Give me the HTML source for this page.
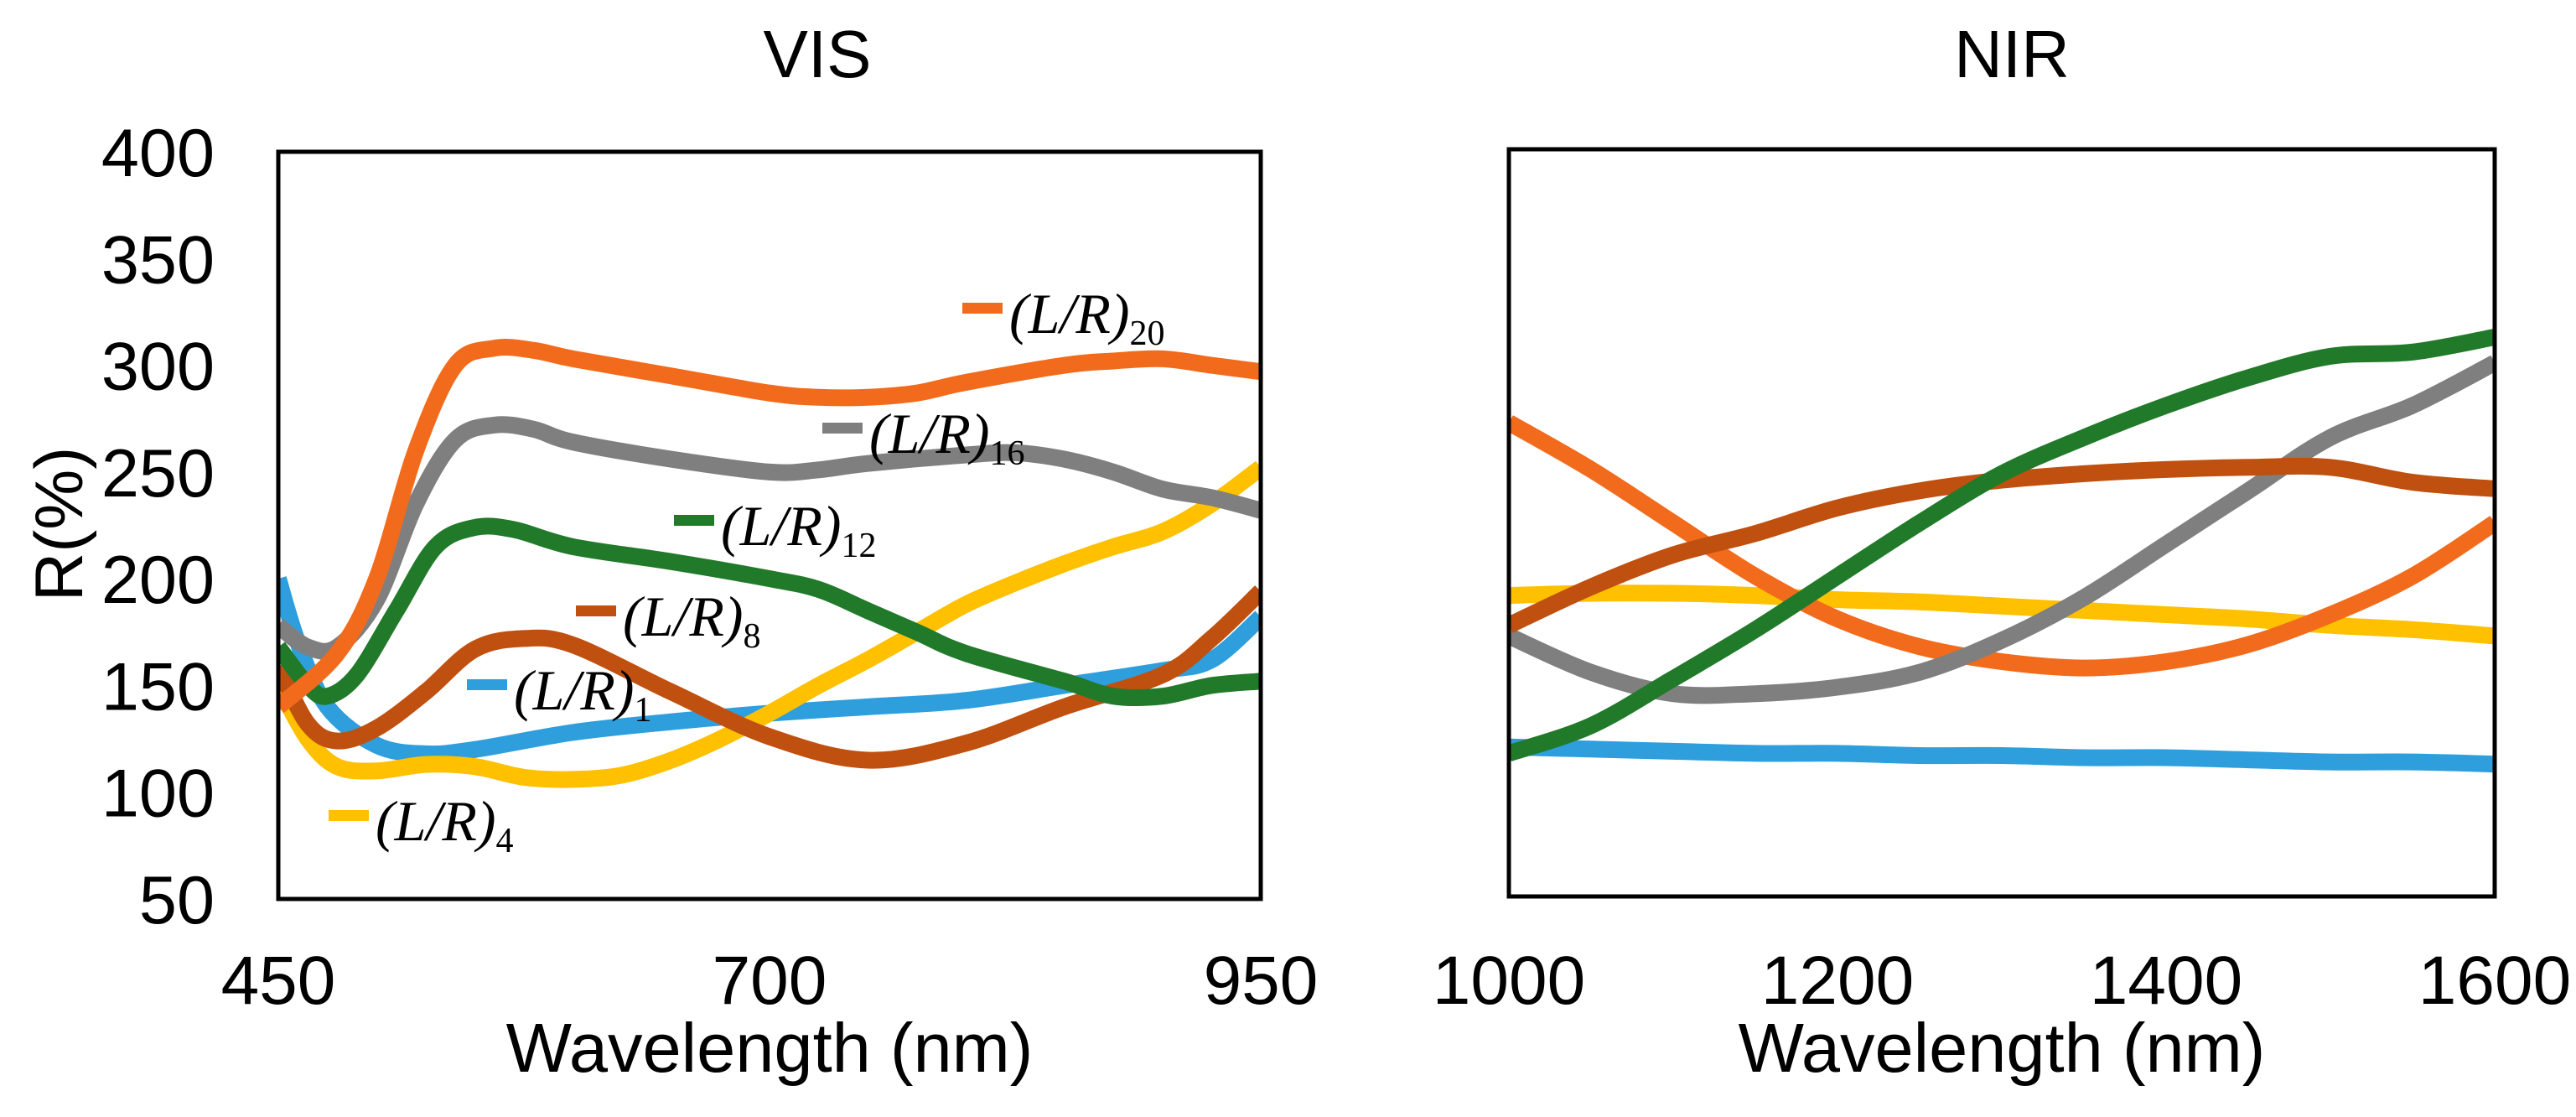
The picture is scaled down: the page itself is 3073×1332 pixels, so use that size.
<!DOCTYPE html>
<html><head><meta charset="utf-8"><style>
html,body{margin:0;padding:0;background:#fff;}
svg{display:block;}
text{font-family:"Liberation Sans",sans-serif;fill:#000;}
.lg{font-family:"Liberation Serif",serif;font-style:italic;font-size:68px;}
.sub{font-family:"Liberation Serif",serif;font-style:normal;font-size:42px;}
</style></head><body>
<svg id="chart" width="3073" height="1332" viewBox="0 0 3073 1332" xmlns="http://www.w3.org/2000/svg">
<g id="layer"></g>
</svg>
<script>
// ---- data ----
const yTicks = [50,100,150,200,250,300,350,400];
const visTicks = [450,700,950];
const nirTicks = [1000,1200,1400,1600];
const seriesNames = ["(L/R)1","(L/R)4","(L/R)8","(L/R)12","(L/R)16","(L/R)20"];
const seriesColors = ["#2E9FDC","#FFC000","#C0500F","#217A2A","#7F7F7F","#F26B1D"];

const visX1 = [450,460,475,500,525,550,600,650,700,750,800,850,900,925,950];
const visY1 = [200,170,140,122,118,120,128,133,137,140,143,150,157,162,182];
const visX4 = [450,465,480,500,525,550,575,600,625,650,675,700,725,750,775,800,825,850,875,900,925,950];
const visY4 = [150,125,112,110,113,112,107,106,108,115,125,137,150,162,175,188,198,207,215,222,235,252];
const visX8 = [450,465,480,500,525,550,575,600,650,700,750,800,850,900,925,950];
const visY8 = [159,132,124,130,147,167,172,169,147,126,115,123,140,155,172,194];
const visX12 = [450,465,475,490,510,530,550,570,600,650,700,725,750,775,800,850,875,900,925,950];
const visY12 = [168,150,145,155,185,215,224,223,215,208,200,195,185,175,165,152,145,145,150,152];
const visX16 = [450,465,480,500,520,540,560,580,600,650,700,725,750,800,825,850,875,900,925,950];
const visY16 = [178,168,168,190,235,265,272,270,264,256,250,251,254,258,259,256,250,242,238,232];
const visX20 = [450,480,500,520,540,560,580,600,650,700,725,750,775,800,850,875,900,925,950];
const visY20 = [140,165,200,260,300,308,307,303,295,287,285,285,287,292,300,302,303,300,297];

const nirX = [1000,1050,1100,1150,1200,1250,1300,1350,1400,1450,1500,1550,1600];
const nirY1 = [120,119,118,117,117,116,116,115,115,114,113,113,112];
const nirY4 = [191,192,192,191,189,188,186,184,182,180,177,175,172];
const nirY8 = [177,195,210,220,232,240,245,248,250,251,251,244,241];
const nirY12 = [117,130,152,175,200,225,248,265,280,293,303,305,312];
const nirY16 = [172,155,145,145,148,155,170,190,215,240,265,280,300];
const nirY20 = [272,250,225,200,180,167,160,157,160,168,182,200,225];

// ---- layout ----
const NS = "http://www.w3.org/2000/svg";
const layer = document.getElementById("layer");
function el(tag, attrs, parent){ const e=document.createElementNS(NS,tag); for(const k in attrs) e.setAttribute(k,attrs[k]); (parent||layer).appendChild(e); return e; }

const P1 = {x0:332,x1:1504,y0:181,y1:1072,xmin:450,xmax:950};
const P2 = {x0:1800,x1:2976,y0:178,y1:1069,xmin:1000,xmax:1600};
const YMIN=50, YMAX=400;
function sx(p,v){ return p.x0 + (v-p.xmin)/(p.xmax-p.xmin)*(p.x1-p.x0); }
function sy(p,v){ return p.y1 - (v-YMIN)/(YMAX-YMIN)*(p.y1-p.y0); }

function smoothPath(pts){
  let d = "M"+pts[0][0].toFixed(1)+","+pts[0][1].toFixed(1);
  for(let i=0;i<pts.length-1;i++){
    const p0=pts[Math.max(0,i-1)], p1=pts[i], p2=pts[i+1], p3=pts[Math.min(pts.length-1,i+2)];
    const c1x=p1[0]+(p2[0]-p0[0])/6, c1y=p1[1]+(p2[1]-p0[1])/6;
    const c2x=p2[0]-(p3[0]-p1[0])/6, c2y=p2[1]-(p3[1]-p1[1])/6;
    d+=" C"+c1x.toFixed(1)+","+c1y.toFixed(1)+" "+c2x.toFixed(1)+","+c2y.toFixed(1)+" "+p2[0].toFixed(1)+","+p2[1].toFixed(1);
  }
  return d;
}

function drawPanel(p, name, title, titleX, xTicks, series){
  const g = el("g",{});
  
  
  const clipId = name+"-clip";
  const cp = el("clipPath",{id:clipId},g);
  el("rect",{x:p.x0,y:p.y0,width:p.x1-p.x0,height:p.y1-p.y0},cp);
  const lines = el("g",{"clip-path":"url(#"+clipId+")"},g);
  series.forEach((s,i)=>{
    const pts = s.xs.map((x,j)=>[sx(p,x),sy(p,s.ys[j])]);
    const path = el("path",{d:smoothPath(pts),fill:"none",stroke:seriesColors[s.ci],"stroke-width":20,"stroke-linejoin":"round","stroke-linecap":"butt"},lines);
    
    
  });
  const frame = el("rect",{x:p.x0,y:p.y0,width:p.x1-p.x0,height:p.y1-p.y0,fill:"none",stroke:"#000","stroke-width":5},g);
  
  
  xTicks.forEach(t=>{
    const tx = el("text",{x:sx(p,t),y:1197,"font-size":82,"text-anchor":"middle"},g);
    tx.textContent = t;
    
    
  });
  const xt = el("text",{x:(p.x0+p.x1)/2,y:1278,"font-size":83,"text-anchor":"middle"},g);
  xt.textContent = "Wavelength (nm)";
  
  
  const tt = el("text",{x:titleX,y:92,"font-size":80,"text-anchor":"middle"},g);
  tt.textContent = title;
  
  
}

drawPanel(P1,"vis","VIS",975,visTicks,[
  {xs:visX1,ys:visY1,ci:0},{xs:visX4,ys:visY4,ci:1},{xs:visX8,ys:visY8,ci:2},
  {xs:visX12,ys:visY12,ci:3},{xs:visX16,ys:visY16,ci:4},{xs:visX20,ys:visY20,ci:5}
]);
drawPanel(P2,"nir","NIR",2400,nirTicks,[
  {xs:nirX,ys:nirY1,ci:0},{xs:nirX,ys:nirY4,ci:1},{xs:nirX,ys:nirY20,ci:5},
  {xs:nirX,ys:nirY16,ci:4},{xs:nirX,ys:nirY8,ci:2},{xs:nirX,ys:nirY12,ci:3}
]);

// y ticks
yTicks.forEach(t=>{
  const tx = el("text",{x:256,y:sy(P1,t)+29,"font-size":81,"text-anchor":"end"});
  tx.textContent = t;
  
  
});
const yt = el("text",{x:0,y:0,"font-size":81,"text-anchor":"middle",transform:"translate(98,625) rotate(-90)"});
yt.textContent = "R(%)";



// in-plot labels
const labels = [
  {ci:5, mx:1148, my:367, sub:"20"},
  {ci:4, mx:981, my:510, sub:"16"},
  {ci:3, mx:804, my:620, sub:"12"},
  {ci:2, mx:687, my:728, sub:"8"},
  {ci:0, mx:557, my:816, sub:"1"},
  {ci:1, mx:392, my:972, sub:"4"}
];
labels.forEach(l=>{
  const g = el("g",{});
  
  
  el("rect",{x:l.mx,y:l.my-6,width:48,height:13,fill:seriesColors[l.ci]},g);
  const t = el("text",{x:l.mx+56,y:l.my+30,"class":"lg"},g);
  t.textContent = "(L/R)";
  const s = el("tspan",{"class":"sub",dy:14},t);
  s.textContent = l.sub;
});
</script>
</body></html>
